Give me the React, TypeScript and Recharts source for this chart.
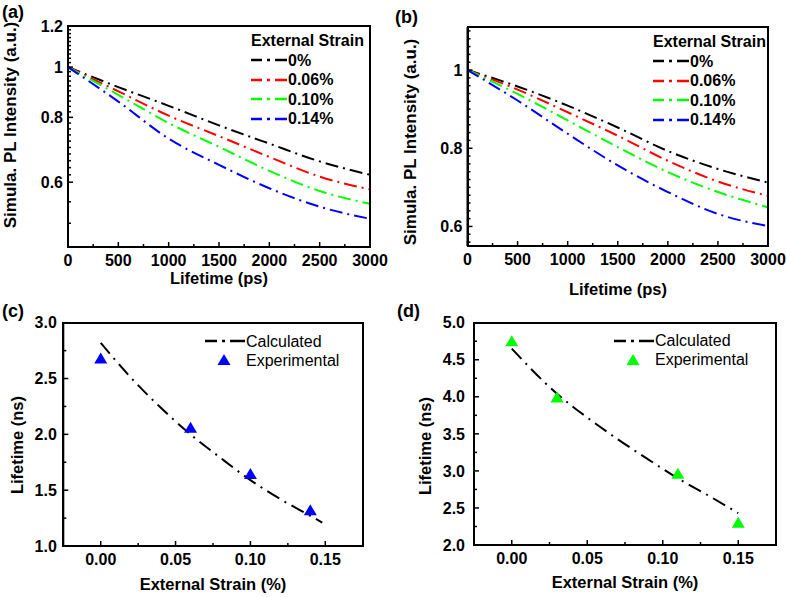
import {
  LineChart,
  ComposedChart,
  Line,
  Scatter,
  XAxis,
  YAxis,
  Legend,
  Label,
} from "recharts";

const FONT = '"Liberation Sans", Arial, Helvetica, sans-serif';

// (a), (b): simulated PL decay vs lifetime
const lifetimePs = [0, 500, 1000, 1500, 2000, 2500, 3000];
const strainLabels = ["0%", "0.06%", "0.10%", "0.14%"];
const strainKeys = ["s0", "s6", "s10", "s14"];
const strainColors = ["#000000", "#ff0000", "#00ff00", "#0000ff"];

const plA0 = [1, 0.915, 0.842, 0.772, 0.712, 0.658, 0.62];
const plA6 = [1, 0.898, 0.806, 0.736, 0.671, 0.615, 0.581];
const plA10 = [1, 0.884, 0.78, 0.702, 0.631, 0.577, 0.545];
const plA14 = [1, 0.858, 0.728, 0.648, 0.584, 0.538, 0.51];

const plB0 = [1, 0.958, 0.909, 0.853, 0.793, 0.747, 0.712];
const plB6 = [1, 0.95, 0.892, 0.832, 0.768, 0.715, 0.678];
const plB10 = [1, 0.939, 0.871, 0.803, 0.739, 0.688, 0.649];
const plB14 = [1, 0.922, 0.837, 0.756, 0.688, 0.632, 0.601];

// (c), (d): lifetime vs external strain
const calcStrainC = [0, 0.02, 0.04, 0.06, 0.08, 0.1, 0.12, 0.14, 0.148];
const calcLifetimeC = [2.82, 2.51, 2.24, 2.0, 1.79, 1.59, 1.42, 1.27, 1.21];
const expStrainC = [0, 0.06, 0.1, 0.14];
const expLifetimeC = [2.68, 2.06, 1.645, 1.32];

const calcStrainD = [0, 0.03, 0.05, 0.07, 0.09, 0.11, 0.13, 0.15];
const calcLifetimeD = [4.65, 4.04, 3.72, 3.43, 3.16, 2.9, 2.67, 2.43];
const expStrainD = [0, 0.03, 0.11, 0.15];
const expLifetimeD = [4.75, 3.99, 2.96, 2.3];

// tick labels
const timeTicks = [0, 500, 1000, 1500, 2000, 2500, 3000];
const plTicksA = [0.6, 0.8, 1, 1.2];
const plTicksB = [0.6, 0.8, 1];
const strainTicks = [0, 0.05, 0.1, 0.15];
const lifeTicksC = [1, 1.5, 2, 2.5, 3];
const lifeTicksD = [2, 2.5, 3, 3.5, 4, 4.5, 5];

const steps = (from: number, to: number, step: number) => {
  const out: number[] = [];
  for (let v = from; v <= to + 1e-9; v += step) out.push(+v.toFixed(4));
  return out;
};
const near = (list: number[], v: number) => list.some((m) => Math.abs(m - v) < 1e-6);
const withMinor = (major: number[], minor: number[]) =>
  [...major, ...minor.filter((m) => !near(major, m))].sort((a, b) => a - b);

const rowsA = lifetimePs.map((t, i) => ({ t, s0: plA0[i], s6: plA6[i], s10: plA10[i], s14: plA14[i] }));
const rowsB = lifetimePs.map((t, i) => ({ t, s0: plB0[i], s6: plB6[i], s10: plB10[i], s14: plB14[i] }));
const calcC = calcStrainC.map((x, i) => ({ x, y: calcLifetimeC[i] }));
const expC = expStrainC.map((x, i) => ({ x, y: expLifetimeC[i] }));
const calcD = calcStrainD.map((x, i) => ({ x, y: calcLifetimeD[i] }));
const expD = expStrainD.map((x, i) => ({ x, y: expLifetimeD[i] }));

const txt = { fontFamily: FONT, fontWeight: 700, fontSize: 16, fill: "#000" };
const Y_W = 60;
const X_H = 40;

// inward ticks, labels only on majors
const leftTick = (majors: number[], fmt: (v: number) => string, gap: number) => (p: any) => {
  const v = p.payload.value;
  const major = near(majors, v);
  return (
    <g>
      <line x1={p.x} x2={p.x + (major ? 5 : 3)} y1={p.y} y2={p.y} stroke="#000" strokeWidth={1.5} />
      {major && (
        <text x={p.x - gap} y={p.y} dy="0.355em" textAnchor="end" {...txt}>
          {fmt(v)}
        </text>
      )}
    </g>
  );
};
const bottomTick = (majors: number[], fmt: (v: number) => string) => (p: any) => {
  const v = p.payload.value;
  const major = near(majors, v);
  return (
    <g>
      <line x1={p.x} x2={p.x} y1={p.y} y2={p.y - (major ? 5 : 3)} stroke="#000" strokeWidth={1.5} />
      {major && (
        <text x={p.x} y={p.y + 8} dy="0.71em" textAnchor="middle" {...txt}>
          {fmt(v)}
        </text>
      )}
    </g>
  );
};

const yTitle = (value: string, x: number, y: number, size = 16.5) => (
  <Label
    content={() => (
      <text x={x} y={y} transform={`rotate(-90, ${x}, ${y})`} dy="0.355em" textAnchor="middle" {...txt} fontSize={size}>
        {value}
      </text>
    )}
  />
);
const xTitle = (value: string, x: number, y: number) => (
  <Label
    content={() => (
      <text x={x} y={y} textAnchor="middle" {...txt} fontSize={16.5}>
        {value}
      </text>
    )}
  />
);

const StrainLegend = () => (
  <div style={{ fontFamily: FONT, fontWeight: 700, fontSize: 16, lineHeight: "19.5px", color: "#000", whiteSpace: "nowrap" }}>
    <div>External Strain</div>
    {strainLabels.map((s, i) => (
      <div key={s} style={{ display: "flex", alignItems: "center", height: 19.5 }}>
        <svg width={37} height={10}>
          <line x1={0} x2={36} y1={5} y2={5} stroke={strainColors[i]} strokeWidth={2.5} strokeDasharray="11 5 3 5 12" />
        </svg>
        <span>{s}</span>
      </div>
    ))}
  </div>
);

const FitLegend = ({ color }: { color: string }) => (
  <div style={{ fontFamily: FONT, fontWeight: 400, fontSize: 16, lineHeight: "19px", color: "#000", whiteSpace: "nowrap" }}>
    <div style={{ display: "flex", alignItems: "center", height: 19 }}>
      <svg width={41} height={10}>
        <line x1={0} x2={40} y1={5} y2={5} stroke="#000" strokeWidth={2.5} strokeDasharray="12 5 3 5 15" />
      </svg>
      <span>Calculated</span>
    </div>
    <div style={{ display: "flex", alignItems: "center", height: 19 }}>
      <svg width={41} height={14}>
        <polygon points="19,1 12.5,12 25.5,12" fill={color} />
      </svg>
      <span>Experimental</span>
    </div>
  </div>
);

const triangle = (color: string) => (p: any) => (
  <polygon points={`${p.cx},${p.cy - 6} ${p.cx - 6.5},${p.cy + 5} ${p.cx + 6.5},${p.cy + 5}`} fill={color} />
);

const decayChart = (
  rows: any[],
  yDomain: number[],
  yMajors: number[],
  yMinors: number[],
  log: boolean,
  margin: any,
  w: number,
  titleY: number[],
  titleX: number[],
  legendPos: number[]
) => (
  <LineChart width={w} height={300} data={rows} margin={margin}>
    <XAxis
      dataKey="t"
      type="number"
      domain={[0, 3000]}
      ticks={withMinor(timeTicks, steps(250, 2750, 500))}
      interval={0}
      tickSize={0}
      tickMargin={0}
      tickLine={false}
      stroke="#000"
      strokeWidth={2}
      height={X_H}
      tick={bottomTick(timeTicks, (v) => String(v))}
    >
      {xTitle("Lifetime (ps)", titleX[0], titleX[1])}
    </XAxis>
    <YAxis
      type="number"
      scale={log ? "log" : "auto"}
      domain={yDomain}
      allowDataOverflow
      ticks={withMinor(yMajors, yMinors)}
      interval={0}
      tickSize={0}
      tickMargin={0}
      tickLine={false}
      stroke="#000"
      strokeWidth={2}
      width={Y_W}
      tick={leftTick(yMajors, (v) => String(v), 5)}
    >
      {yTitle("Simula. PL Intensity (a.u.)", titleY[0], titleY[1], 17)}
    </YAxis>
    {strainKeys.map((k, i) => (
      <Line
        key={k}
        dataKey={k}
        type="monotone"
        stroke={strainColors[i]}
        strokeWidth={2}
        strokeDasharray="13 5 2 5"
        dot={false}
        isAnimationActive={false}
      />
    ))}
    <Legend
      layout="vertical"
      align="center"
      verticalAlign="middle"
      content={() => <StrainLegend />}
      wrapperStyle={{ left: legendPos[0], top: legendPos[1], width: 130 }}
    />
  </LineChart>
);

const strainChart = (
  calc: any[],
  exp: any[],
  color: string,
  yDomain: number[],
  yMajors: number[],
  margin: any,
  w: number,
  labelGap: number,
  titleY: number[],
  titleX: number[],
  legendPos: number[]
) => (
  <ComposedChart width={w} height={297} margin={margin}>
    <XAxis
      dataKey="x"
      type="number"
      domain={[-0.025, 0.175]}
      ticks={withMinor(strainTicks, steps(-0.025, 0.175, 0.05))}
      interval={0}
      tickSize={0}
      tickMargin={0}
      tickLine={false}
      stroke="#000"
      strokeWidth={2}
      height={X_H}
      allowDataOverflow
      tick={bottomTick(strainTicks, (v) => v.toFixed(2))}
    >
      {xTitle("External Strain (%)", titleX[0], titleX[1])}
    </XAxis>
    <YAxis
      dataKey="y"
      type="number"
      domain={yDomain}
      allowDataOverflow
      ticks={withMinor(yMajors, steps(yDomain[0] + 0.25, yDomain[1], 0.5))}
      interval={0}
      tickSize={0}
      tickMargin={0}
      tickLine={false}
      stroke="#000"
      strokeWidth={2}
      width={Y_W}
      tick={leftTick(yMajors, (v) => v.toFixed(1), labelGap)}
    >
      {yTitle("Lifetime (ns)", titleY[0], titleY[1])}
    </YAxis>
    <Line
      data={calc}
      dataKey="y"
      type="monotone"
      stroke="#000"
      strokeWidth={2}
      strokeDasharray="14 6 2 6"
      dot={false}
      isAnimationActive={false}
    />
    <Scatter data={exp} dataKey="y" shape={triangle(color)} isAnimationActive={false} />
    <Legend
      layout="vertical"
      align="center"
      verticalAlign="middle"
      content={() => <FitLegend color={color} />}
      wrapperStyle={{ left: legendPos[0], top: legendPos[1], width: 150 }}
    />
  </ComposedChart>
);

const panelLetter = { position: "absolute" as const, fontFamily: FONT, fontWeight: 700, fontSize: 18, lineHeight: "18px", color: "#000" };

const marginA = { top: 26, right: 20, bottom: 13, left: 8 };
const marginB = { top: 27, right: 19, bottom: 14, left: 17.5 };
const marginC = { top: 22.7, right: 27.3, bottom: 11, left: 3.3 };
const marginD = { top: 22.7, right: 11, bottom: 12, left: 24 };

// plot-area boxes on the page, from each panel's offset, size and margins
const boxOf = (ox: number, oy: number, w: number, h: number, m: any) => ({
  position: "absolute" as const,
  left: ox + m.left + Y_W - 1,
  top: oy + m.top - 1,
  width: w - m.left - Y_W - m.right - 2,
  height: h - m.top - m.bottom - X_H - 2,
  border: "2px solid #000",
  pointerEvents: "none" as const,
});

export default function App() {
  return (
    <div style={{ position: "absolute", left: 0, top: 0, width: 787, height: 597 }}>
      <div style={{ position: "absolute", left: 0, top: 0 }}>
        {decayChart(rowsA, [0.45, 1.2], plTicksA, [...steps(0.62, 1.18, 0.02), 0.5, 0.55], true, marginA, 390, [10, 125], [219, 284], [251, 31])}
      </div>
      <div style={{ position: "absolute", left: 390, top: 0 }}>
        {decayChart(rowsB, [0.55, 1.11], plTicksB, steps(0.56, 1.1, 0.02), false, marginB, 397, [20, 142], [228, 295], [263, 32])}
      </div>
      <div style={{ position: "absolute", left: 0, top: 300 }}>
        {strainChart(calcC, expC, "#0000ff", [1, 3], lifeTicksC, marginC, 390, 6.5, [17, 145], [213, 290], [205, 31.5])}
      </div>
      <div style={{ position: "absolute", left: 390, top: 300 }}>
        {strainChart(calcD, expD, "#00ff00", [2, 5], lifeTicksD, marginD, 397, 9, [35, 146], [235, 288], [224, 31])}
      </div>
      <div style={boxOf(0, 0, 390, 300, marginA)} />
      <div style={boxOf(390, 0, 397, 300, marginB)} />
      <div style={boxOf(0, 300, 390, 297, marginC)} />
      <div style={boxOf(390, 300, 397, 297, marginD)} />
      <div style={{ ...panelLetter, left: 2, top: 3 }}>(a)</div>
      <div style={{ ...panelLetter, left: 395, top: 8 }}>(b)</div>
      <div style={{ ...panelLetter, left: 2, top: 302 }}>(c)</div>
      <div style={{ ...panelLetter, left: 397, top: 302 }}>(d)</div>
    </div>
  );
}
